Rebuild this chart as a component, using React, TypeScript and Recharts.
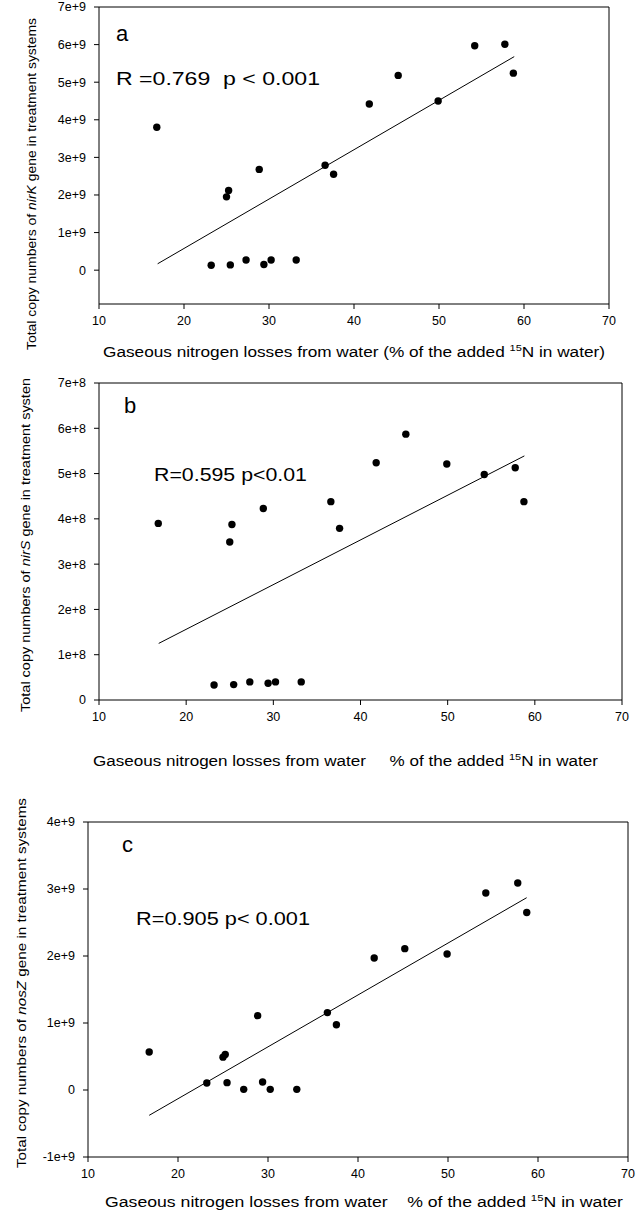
import { ScatterChart, Scatter, XAxis, YAxis, ReferenceLine } from 'recharts';

// gaseous N loss (% of added 15N in water), same 18 systems in every panel
const lossPct = [16.8, 23.2, 25.0, 25.25, 25.45, 27.3, 28.85, 29.4, 30.25, 33.2, 36.6, 37.6, 41.8, 45.2, 49.9, 54.2, 57.75, 58.75];

const nirK = [3.8e9, 0.13e9, 1.95e9, 2.12e9, 0.14e9, 0.27e9, 2.68e9, 0.15e9, 0.27e9, 0.27e9, 2.79e9, 2.55e9, 4.42e9, 5.18e9, 4.5e9, 5.97e9, 6.01e9, 5.24e9];
const nirS = [3.9e8, 0.33e8, 3.49e8, 3.875e8, 0.34e8, 0.4e8, 4.23e8, 0.37e8, 0.4e8, 0.4e8, 4.38e8, 3.79e8, 5.24e8, 5.87e8, 5.21e8, 4.98e8, 5.13e8, 4.38e8];
const nosZ = [0.567e9, 0.104e9, 0.49e9, 0.53e9, 0.11e9, 0.01e9, 1.11e9, 0.12e9, 0.01e9, 0.01e9, 1.155e9, 0.975e9, 1.97e9, 2.11e9, 2.03e9, 2.94e9, 3.09e9, 2.65e9];

// regression line end points
const nirKFit = [{ x: 16.9, y: 0.17e9 }, { x: 58.85, y: 5.68e9 }];
const nirSFit = [{ x: 16.85, y: 1.25e8 }, { x: 58.8, y: 5.39e8 }];
const nosZFit = [{ x: 16.8, y: -0.378e9 }, { x: 58.74, y: 2.87e9 }];

const xTicks = [10, 20, 30, 40, 50, 60, 70];
const nirKTicks = [0, 1e9, 2e9, 3e9, 4e9, 5e9, 6e9, 7e9];
const nirSTicks = [0, 1e8, 2e8, 3e8, 4e8, 5e8, 6e8, 7e8];
const nosZTicks = [-1e9, 0, 1e9, 2e9, 3e9, 4e9];

const FONT = 'Arial, "Liberation Sans", Helvetica, sans-serif';

function sciFormat(exp: number) {
  return (v: number) => (v === 0 ? '0' : `${v / 10 ** exp}e+${exp}`);
}

const Dot = (props: any) => <circle cx={props.cx} cy={props.cy} r={3.7} fill="#000" />;

interface PanelProps {
  values: number[];
  fit: { x: number; y: number }[];
  yDomain: [number, number];
  yTicks: number[];
  exp: number;
  top: number;
  height: number;
  margin: { top: number; right: number; bottom: number; left: number };
}

function Panel({ values, fit, yDomain, yTicks, exp, top, height, margin }: PanelProps) {
  const data = lossPct.map((x, i) => ({ x, y: values[i] }));
  const tickStyle = { fill: '#000', fontSize: 12.5, fontFamily: FONT };
  return (
    <div style={{ position: 'absolute', left: 0, top }}>
      <ScatterChart width={636} height={height} margin={margin}>
        <XAxis
          type="number"
          dataKey="x"
          domain={[10, 70]}
          ticks={xTicks}
          interval={0}
          height={30}
          tickSize={5}
          tickMargin={7}
          tick={tickStyle}
          stroke="#000"
        />
        <YAxis
          type="number"
          dataKey="y"
          domain={yDomain}
          ticks={yTicks}
          interval={0}
          width={60}
          tickSize={5}
          tickMargin={8}
          tick={tickStyle}
          tickFormatter={sciFormat(exp)}
          stroke="#000"
        />
        <ReferenceLine y={yDomain[1]} stroke="#000" ifOverflow="visible" />
        <ReferenceLine x={70} stroke="#000" ifOverflow="visible" />
        <ReferenceLine segment={fit} stroke="#000" strokeWidth={1} ifOverflow="visible" />
        <Scatter data={data} fill="#000" shape={Dot} isAnimationActive={false} />
      </ScatterChart>
    </div>
  );
}

function XTitle({ x, y, len, gap }: { x: number; y: number; len: number; gap: string }) {
  return (
    <text x={x} y={y} fontSize={14} textLength={len} lengthAdjust="spacingAndGlyphs" style={{ whiteSpace: 'pre' }}>
      {`Gaseous nitrogen losses from water${gap}`}
      <tspan fontSize={9} dy={-6}>15</tspan>
      <tspan dy={6}>{gap.includes('(') ? 'N in water)' : 'N in water'}</tspan>
    </text>
  );
}

function YTitle({ x, y, len, gene, tail }: { x: number; y: number; len: number; gene: string; tail: string }) {
  return (
    <text
      transform={`translate(${x},${y}) rotate(-90)`}
      textAnchor="middle"
      fontSize={13.5}
      textLength={len}
      lengthAdjust="spacingAndGlyphs"
    >
      Total copy numbers of <tspan fontStyle="italic">{gene}</tspan> gene in treatment {tail}
    </text>
  );
}

export default function App() {
  return (
    <div style={{ position: 'absolute', left: 0, top: 0, width: 636, height: 1216, background: '#fff' }}>
      <Panel
        values={nirK}
        fit={nirKFit}
        yDomain={[-9e8, 7e9]}
        yTicks={nirKTicks}
        exp={9}
        top={0}
        height={370}
        margin={{ top: 7, right: 27, bottom: 36, left: 39 }}
      />
      <Panel
        values={nirS}
        fit={nirSFit}
        yDomain={[0, 7e8]}
        yTicks={nirSTicks}
        exp={8}
        top={375}
        height={400}
        margin={{ top: 8, right: 14, bottom: 45, left: 39 }}
      />
      <Panel
        values={nosZ}
        fit={nosZFit}
        yDomain={[-1e9, 4e9]}
        yTicks={nosZTicks}
        exp={9}
        top={790}
        height={426}
        margin={{ top: 32, right: 8, bottom: 29, left: 28 }}
      />
      <svg
        width={636}
        height={1216}
        style={{ position: 'absolute', left: 0, top: 0, pointerEvents: 'none' }}
        fontFamily={FONT}
        fill="#000"
      >
        {/* panel a */}
        <text x={116} y={41} fontSize={22}>a</text>
        <text x={116} y={85} fontSize={18} textLength={204} lengthAdjust="spacingAndGlyphs" style={{ whiteSpace: 'pre' }}>
          {'R =0.769  p < 0.001'}
        </text>
        <XTitle x={103} y={357} len={502} gap=" (% of the added " />
        <YTitle x={36} y={184} len={332} gene="nirK" tail="systems" />

        {/* panel b */}
        <text x={124} y={413} fontSize={22}>b</text>
        <text x={154} y={481} fontSize={18} textLength={153} lengthAdjust="spacingAndGlyphs">
          R=0.595 p&lt;0.01
        </text>
        <XTitle x={93} y={766} len={505} gap="     % of the added " />
        <YTitle x={30} y={545} len={334} gene="nirS" tail="systen" />

        {/* panel c */}
        <text x={122} y={852} fontSize={22}>c</text>
        <text x={136} y={925} fontSize={18} textLength={174} lengthAdjust="spacingAndGlyphs">
          R=0.905 p&lt; 0.001
        </text>
        <XTitle x={105} y={1207} len={518} gap="    % of the added " />
        <YTitle x={26} y={983} len={370} gene="nosZ" tail="systems" />
      </svg>
    </div>
  );
}
